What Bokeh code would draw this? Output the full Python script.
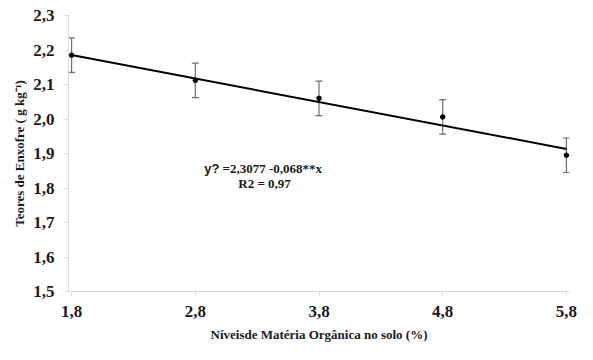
from bokeh.plotting import figure
from bokeh.models import (ColumnDataSource, Whisker, TeeHead, Range1d, FixedTicker, Label)
from bokeh.embed import file_html
from bokeh.resources import INLINE

# Data
mo_levels = [1.8, 2.8, 3.8, 4.8, 5.8]
enxofre = [2.185, 2.112, 2.060, 2.006, 1.895]
err = [0.050, 0.050, 0.050, 0.050, 0.050]
intercept = 2.3077
slope = -0.068
x_ticks = [1.8, 2.8, 3.8, 4.8, 5.8]
x_tick_labels = ["1,8", "2,8", "3,8", "4,8", "5,8"]
y_ticks = [1.5, 1.6, 1.7, 1.8, 1.9, 2.0, 2.1, 2.2, 2.3]
y_tick_labels = ["1,5", "1,6", "1,7", "1,8", "1,9", "2,0", "2,1", "2,2", "2,3"]
eq_lhs = "y?"
eq_rhs = "=2,3077 -0,068**x"
r2_text = "R2 = 0,97"

FONT = "Liberation Serif"
SANS = "Liberation Sans"
TXT = "#1a1a1a"

src = ColumnDataSource(dict(
    x=mo_levels, y=enxofre,
    upper=[v + e for v, e in zip(enxofre, err)],
    lower=[v - e for v, e in zip(enxofre, err)],
))

p = figure(width=577, height=344, output_backend="svg", toolbar_location=None,
           x_range=Range1d(1.775, 5.825), y_range=Range1d(1.5, 2.3),
           min_border_left=68, min_border_right=8, min_border_top=15, min_border_bottom=52)
p.outline_line_color = None
p.xgrid.grid_line_color = None
p.ygrid.grid_line_color = None
p.background_fill_color = "white"
p.border_fill_color = "white"

# regression line
fit_x = [mo_levels[0], mo_levels[-1]]
fit_y = [intercept + slope * v for v in fit_x]
p.line(fit_x, fit_y, line_color="black", line_width=2)

EB = "#6e6e6e"
w = Whisker(base="x", upper="upper", lower="lower", source=src,
            line_color=EB, line_width=1.2,
            upper_head=TeeHead(size=7, line_color=EB, line_width=1.2),
            lower_head=TeeHead(size=7, line_color=EB, line_width=1.2))
p.add_layout(w)
p.scatter("x", "y", source=src, size=4.5, color="black")

for ax in (p.xaxis[0], p.yaxis[0]):
    ax.axis_line_color = "#d9d9d9"
    ax.major_tick_line_color = "#d9d9d9"
    ax.minor_tick_line_color = None
    ax.major_tick_in = 0
    ax.major_tick_out = 4
    ax.major_label_text_font = FONT
    ax.major_label_text_font_style = "bold"
    ax.major_label_text_font_size = "17px"
    ax.major_label_text_color = TXT
    ax.axis_label_text_font = FONT
    ax.axis_label_text_font_style = "bold"
    ax.axis_label_text_font_size = "13px"
    ax.axis_label_text_color = TXT

p.xaxis.ticker = FixedTicker(ticks=x_ticks)
p.xaxis.major_label_overrides = {t: l for t, l in zip(x_ticks, x_tick_labels)}
p.yaxis.ticker = FixedTicker(ticks=y_ticks)
p.yaxis.major_label_overrides = {t: l for t, l in zip(y_ticks, y_tick_labels)}
p.xaxis.major_label_standoff = 10
p.yaxis.major_label_standoff = 10
p.xaxis.axis_label = "Níveisde Matéria Orgânica no solo (%)"
p.yaxis.axis_label = "Teores de Enxofre ( g kg⁻¹)"
p.xaxis.axis_label_standoff = 7
p.yaxis.axis_label_standoff = 3

p.add_layout(Label(x=3.02, y=1.856, text=eq_lhs, text_font=SANS, text_font_style="bold",
                   text_font_size="13px", text_align="right", text_baseline="middle",
                   x_offset=-3, text_color=TXT))
p.add_layout(Label(x=3.02, y=1.856, text=eq_rhs, text_font=FONT, text_font_style="bold",
                   text_font_size="13px", text_align="left", text_baseline="middle",
                   text_color=TXT))
p.add_layout(Label(x=3.36, y=1.813, text=r2_text, text_font=FONT, text_font_style="bold",
                   text_font_size="13px", text_align="center", text_baseline="middle",
                   text_color=TXT))

open("out.html", "w").write(file_html(p, INLINE))
